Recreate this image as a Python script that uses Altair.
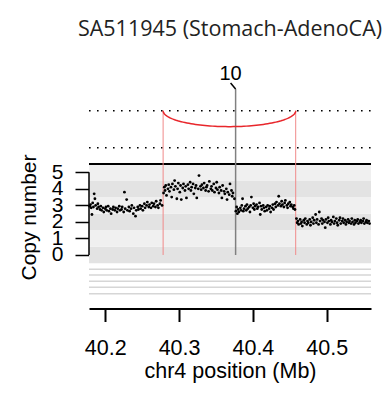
import altair as alt
import pandas as pd
import numpy as np

FONT = "Liberation Sans"
TITLE_FONT = "Open Sans"

# ---- data ----
seg1 = [(40.179, 2.95), (40.180, 3.05), (40.181, 2.85), (40.182, 2.45), (40.183, 3.15), (40.184, 2.9),
        (40.185, 3.7), (40.186, 3.4), (40.187, 3.0), (40.189, 2.8), (40.190, 3.1), (40.191, 2.9),
        (40.193, 2.75), (40.194, 2.95), (40.195, 2.7), (40.197, 2.85), (40.198, 2.6), (40.200, 2.8),
        (40.201, 2.9), (40.202, 2.7), (40.204, 2.95), (40.205, 2.65), (40.207, 2.8), (40.208, 2.5),
        (40.210, 2.75), (40.211, 2.9), (40.213, 2.7), (40.214, 2.85), (40.216, 2.6), (40.217, 2.8),
        (40.219, 2.95), (40.220, 2.7), (40.222, 2.75), (40.223, 2.9), (40.225, 2.6), (40.226, 3.8),
        (40.227, 2.8), (40.229, 3.35), (40.230, 2.7), (40.232, 2.9), (40.233, 2.65), (40.235, 2.8),
        (40.236, 3.0), (40.238, 2.5), (40.239, 2.85), (40.241, 2.35), (40.242, 2.7), (40.244, 2.9),
        (40.245, 2.75), (40.247, 3.0), (40.248, 2.8), (40.250, 2.95), (40.251, 2.7), (40.253, 3.1),
        (40.254, 2.85), (40.256, 3.0), (40.257, 3.2), (40.259, 2.9), (40.260, 3.05), (40.262, 2.85),
        (40.263, 3.15), (40.265, 2.95), (40.266, 3.1), (40.268, 2.9), (40.269, 3.25), (40.271, 3.0),
        (40.272, 2.85), (40.274, 3.1), (40.275, 3.3), (40.277, 3.0)]
seg2 = [(40.279, 3.75), (40.280, 4.1), (40.281, 3.9), (40.282, 4.2), (40.283, 3.6), (40.285, 4.0),
        (40.286, 4.25), (40.287, 3.85), (40.289, 4.1), (40.290, 3.5), (40.291, 4.3), (40.293, 3.95),
        (40.294, 4.5), (40.295, 4.15), (40.297, 3.4), (40.298, 4.0), (40.299, 4.35), (40.301, 3.8),
        (40.302, 4.2), (40.303, 3.35), (40.305, 4.05), (40.306, 4.3), (40.308, 3.9), (40.309, 4.15),
        (40.310, 3.45), (40.312, 4.25), (40.313, 4.0), (40.315, 4.4), (40.316, 3.9), (40.317, 4.1),
        (40.319, 4.3), (40.320, 3.7), (40.322, 4.05), (40.323, 4.2), (40.324, 3.45), (40.326, 4.0),
        (40.327, 4.8), (40.329, 4.15), (40.330, 3.95), (40.331, 4.25), (40.333, 4.05), (40.334, 4.35),
        (40.336, 3.9), (40.337, 4.1), (40.338, 4.2), (40.340, 3.85), (40.341, 4.45), (40.343, 4.0),
        (40.344, 4.15), (40.345, 3.9), (40.347, 4.3), (40.348, 3.8), (40.350, 4.05), (40.351, 4.4),
        (40.352, 3.95), (40.354, 3.75), (40.355, 4.1), (40.357, 3.9), (40.358, 3.45), (40.359, 4.2),
        (40.361, 3.85), (40.362, 3.7), (40.364, 4.0), (40.365, 3.35), (40.366, 3.8), (40.368, 3.65),
        (40.369, 4.3), (40.371, 3.9), (40.372, 3.55), (40.373, 3.75), (40.375, 3.4)]
seg3 = [(40.377, 2.65), (40.378, 2.9), (40.379, 2.5), (40.380, 2.75), (40.381, 2.6), (40.383, 2.85),
        (40.384, 2.7), (40.385, 3.0), (40.386, 3.4), (40.387, 2.65), (40.388, 2.8), (40.390, 2.95),
        (40.391, 2.7), (40.392, 3.05), (40.393, 2.8), (40.395, 2.9), (40.396, 2.6), (40.397, 3.0),
        (40.398, 3.5), (40.400, 2.85), (40.401, 3.1), (40.402, 2.75), (40.403, 2.95), (40.405, 3.05),
        (40.406, 2.8), (40.407, 2.9), (40.409, 3.15), (40.410, 2.45), (40.411, 2.95), (40.412, 2.75),
        (40.414, 3.0), (40.415, 2.85), (40.416, 2.65), (40.418, 2.9), (40.419, 2.7), (40.420, 3.0),
        (40.422, 2.8), (40.423, 2.95), (40.424, 2.6), (40.426, 2.85), (40.427, 3.05), (40.428, 2.75),
        (40.430, 3.1), (40.431, 2.9), (40.432, 3.2), (40.434, 3.0), (40.435, 3.55), (40.436, 3.1),
        (40.438, 2.95), (40.439, 3.25), (40.440, 3.05), (40.442, 2.9), (40.443, 3.15), (40.444, 3.3),
        (40.446, 3.0), (40.447, 2.85), (40.448, 3.1), (40.450, 3.2), (40.451, 2.95), (40.452, 3.05),
        (40.454, 2.9), (40.455, 2.8), (40.456, 3.0), (40.457, 2.75)]
seg4 = [(40.459, 2.2), (40.460, 1.95), (40.461, 2.05), (40.462, 1.85), (40.464, 2.15), (40.465, 1.9),
        (40.466, 2.0), (40.467, 1.75), (40.469, 2.1), (40.470, 1.95), (40.471, 2.2), (40.473, 1.85),
        (40.474, 2.05), (40.475, 1.95), (40.477, 2.15), (40.478, 1.8), (40.479, 2.0), (40.481, 2.25),
        (40.482, 1.9), (40.483, 2.1), (40.485, 2.45), (40.486, 1.95), (40.487, 2.15), (40.489, 1.85),
        (40.490, 2.6), (40.491, 2.05), (40.493, 2.2), (40.494, 1.9), (40.495, 2.1), (40.497, 2.0),
        (40.498, 1.65), (40.499, 2.15), (40.501, 1.95), (40.502, 2.25), (40.503, 2.05), (40.505, 1.85),
        (40.506, 2.1), (40.507, 2.0), (40.509, 2.3), (40.510, 1.9), (40.511, 2.05), (40.513, 2.2),
        (40.514, 1.95), (40.515, 1.8), (40.517, 2.1), (40.518, 2.25), (40.519, 1.9), (40.521, 2.05),
        (40.522, 2.2), (40.523, 1.95), (40.525, 2.1), (40.526, 1.85), (40.527, 2.0), (40.529, 2.15),
        (40.530, 1.95), (40.531, 2.05), (40.533, 1.9), (40.534, 2.2), (40.535, 2.0), (40.537, 1.85),
        (40.538, 2.1), (40.539, 1.95), (40.541, 2.05), (40.542, 2.15), (40.543, 1.9), (40.545, 2.0),
        (40.546, 2.1), (40.547, 1.95), (40.549, 2.05), (40.550, 2.2), (40.551, 1.9), (40.553, 2.0),
        (40.554, 2.1), (40.555, 1.95), (40.557, 2.05), (40.558, 1.9)]

band_levels = [0, 1, 2, 3, 4, 5]
band_fills = ["#e3e3e3", "#f0f0f0", "#e3e3e3", "#f0f0f0", "#e3e3e3", "#f0f0f0"]
track_lines = [-0.865, -1.21, -1.59, -1.953, -2.34]
dotted_levels = [6.48, 8.72]
top_border = [5.5]
sv_breaks = [40.2784, 40.458]       # red SV breakpoints
arc_top = 8.72
arc_bottom = 7.76
pos10 = 40.3766                      # gray marker labelled "10"
marker_top = 10.04
label10 = "10"
x_ticks = [40.2, 40.3, 40.4, 40.5]
y_ticks = [0, 1, 2, 3, 4, 5]
x_domain = [40.178, 40.560]
y_domain = [-3.235, 11.79]

# ---- tables ----
pts = pd.DataFrame(seg1 + seg2 + seg3 + seg4, columns=["pos", "cn"])
bands = pd.DataFrame({"lo": [b - 0.5 for b in band_levels],
                      "hi": [b + 0.5 for b in band_levels],
                      "fill": band_fills,
                      "x0": x_domain[0], "x1": x_domain[1]})
hlines_grey = pd.DataFrame({"y": track_lines, "x0": x_domain[0], "x1": x_domain[1]})
hlines_dot = pd.DataFrame({"y": dotted_levels, "x0": x_domain[0], "x1": x_domain[1]})
hline_top = pd.DataFrame({"y": top_border, "x0": x_domain[0], "x1": x_domain[1]})
yline = pd.DataFrame({"x0": [x_domain[0]], "y0": [y_ticks[0]], "y1": [y_ticks[-1]]})
reds = pd.DataFrame({"pos": sv_breaks, "bot": 0.0, "top": arc_top})
t = np.linspace(np.pi, 0, 80)
cx = (sv_breaks[0] + sv_breaks[1]) / 2
ax = (sv_breaks[1] - sv_breaks[0]) / 2
arc = pd.DataFrame({"x": cx + ax * np.cos(t),
                    "y": arc_top - (arc_top - arc_bottom) * np.sin(t),
                    "o": np.arange(len(t))})
gray = pd.DataFrame({"pos": [pos10], "bot": [0.0], "top": [marker_top]})
lab = pd.DataFrame({"pos": [pos10 - 0.0068], "y": [10.58], "t": [label10]})
diag = pd.DataFrame({"x1": [pos10 - 0.0068], "x2": [pos10], "y1": [10.40], "y2": [marker_top]})

xs = alt.Scale(domain=x_domain, nice=False, zero=False)
ys = alt.Scale(domain=y_domain, nice=False, zero=False)

x_axis = alt.Axis(values=x_ticks, format=".1f", title="chr4 position (Mb)", grid=False,
                  domainColor="black", domainWidth=2, tickColor="black", tickWidth=2, tickSize=13,
                  labelFont=FONT, labelFontSize=21.5, labelColor="black", labelPadding=32.5,
                  labelBaseline="alphabetic", labelFlush=False, labelOverlap=False,
                  titleFont=FONT, titleFontSize=21.5, titleFontWeight="normal", titleColor="black",
                  titleX=141, titleY=68.5, titleBaseline="alphabetic")
y_axis = alt.Axis(values=y_ticks, format="d", title="Copy number", grid=False, domain=False,
                  tickColor="black", tickWidth=1.5, tickSize=14,
                  labelFont=FONT, labelFontSize=21, labelColor="black", labelPadding=12,
                  labelBaseline="middle", labelFlush=False, labelOverlap=False,
                  titleFont=FONT, titleFontSize=21, titleFontWeight="normal", titleColor="black",
                  titleX=-60, titleY=157, titleBaseline="middle", titleAngle=270)


def X(f):
    return alt.X(f, type="quantitative", scale=xs, axis=x_axis)


def Y(f):
    return alt.Y(f, type="quantitative", scale=ys, axis=y_axis)


band_layer = alt.Chart(bands).mark_rect().encode(
    x=X("x0"), x2="x1:Q", y=Y("lo"), y2="hi:Q",
    fill=alt.Fill("fill:N", scale=None))

track_layer = alt.Chart(hlines_grey).mark_rule(color="#d6d6d6", strokeWidth=1.5).encode(
    x=X("x0"), x2="x1:Q", y=Y("y"))

top_line = alt.Chart(hline_top).mark_rule(color="black", strokeWidth=2).encode(
    x=X("x0"), x2="x1:Q", y=Y("y"))

dot_layer = alt.Chart(hlines_dot).mark_rule(color="black", strokeWidth=1.6,
                                            strokeDash=[1.6, 6.4]).encode(
    x=X("x0"), x2="x1:Q", y=Y("y"))

yaxis_line = alt.Chart(yline).mark_rule(color="black", strokeWidth=1.5).encode(
    x=X("x0"), y=Y("y0"), y2="y1:Q")

red_layer = alt.Chart(reds).mark_rule(color="#f08a8a", strokeWidth=1).encode(
    x=X("pos"), y=Y("bot"), y2="top:Q")

gray_layer = alt.Chart(gray).mark_rule(color="#808080", strokeWidth=1.5).encode(
    x=X("pos"), y=Y("bot"), y2="top:Q")

diag_layer = alt.Chart(diag).mark_rule(color="black", strokeWidth=1.5).encode(
    x=X("x1"), x2="x2:Q", y=Y("y1"), y2="y2:Q")

arc_layer = alt.Chart(arc).mark_line(color="#e8262b", strokeWidth=1.5).encode(
    x=X("x"), y=Y("y"), order="o:Q")

label_layer = alt.Chart(lab).mark_text(font=FONT, fontSize=20, color="black",
                                       align="center", baseline="alphabetic").encode(
    x=X("pos"), y=Y("y"), text="t:N")

point_layer = alt.Chart(pts).mark_circle(size=8, color="black", opacity=1).encode(
    x=X("pos"), y=Y("cn"))

chart = alt.layer(
    band_layer, track_layer, top_line, dot_layer, red_layer, gray_layer, diag_layer,
    arc_layer, label_layer, yaxis_line, point_layer
).properties(
    width=282, height=248.5,
    autosize=alt.AutoSizeParams(type="none"),
    padding={"left": 89, "top": 60, "right": 19, "bottom": 85.5},
    background="white",
    title=alt.TitleParams("SA511945 (Stomach-AdenoCA)", font=TITLE_FONT, fontSize=21.5,
                          fontWeight="normal", color="#222222", anchor="middle",
                          baseline="alphabetic", offset=3),
).configure_view(stroke=None)

chart.save("out.html", embed_options={"renderer": "svg", "actions": False})
